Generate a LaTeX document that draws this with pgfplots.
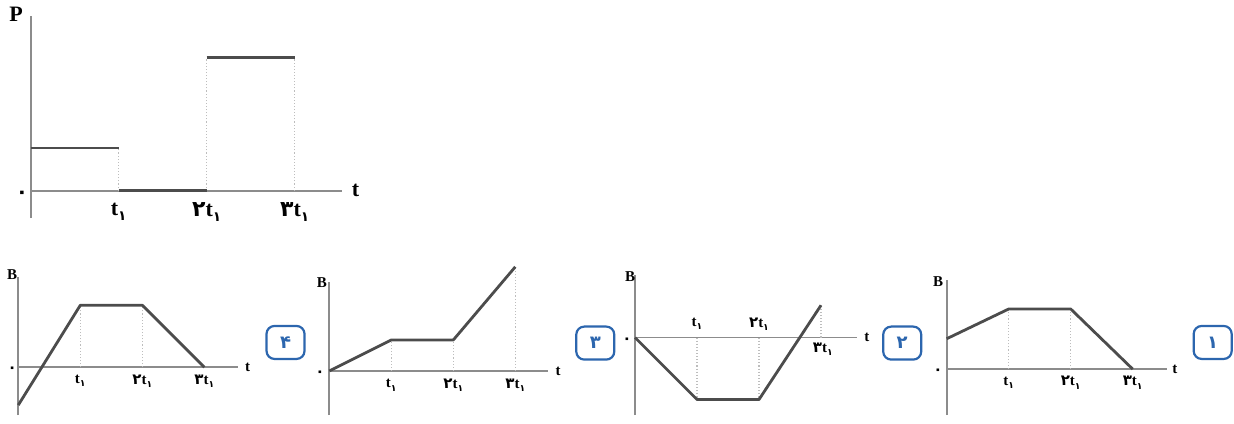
\documentclass[border=0pt]{standalone}
\usepackage{pgfplots}
\pgfplotsset{compat=1.18}
\usepackage{fontspec}
\setmainfont{Liberation Serif}
\newfontfamily\fa{DejaVu Sans}
\definecolor{axisgray}{HTML}{8C8C8C}
\definecolor{datagray}{HTML}{4C4C4C}
\definecolor{guidegray}{HTML}{BDBDBD}
\definecolor{boxblue}{HTML}{2C66AE}

% t-label with a Persian multiplier and subscript
\newcommand{\tl}[1]{{\fa\bfseries #1}\textbf{t}\raisebox{-0.45ex}{\fontsize{0.62em}{1em}\selectfont\fa\bfseries ۱}}
\newcommand{\choice}[1]{\node[draw=boxblue, line width=1.1pt, rounded corners=4pt,
  minimum width=19pt, minimum height=16.5pt, inner sep=0pt, text=boxblue,
  font=\fa\bfseries\fontsize{9}{10}\selectfont]}

\pgfplotsset{
  diag/.style={axis lines=middle, axis line style={-, draw=axisgray, line width=0.9pt},
    xtick=\empty, ytick=\empty, enlargelimits=false, clip=false, anchor=south west},
  curve/.style={datagray, line width=1.4pt, no marks, line join=round},
  guide/.style={guidegray, densely dotted, line width=0.55pt, no marks, forget plot},
}

\begin{document}
\begin{tikzpicture}
\useasboundingbox (0,0) rectangle (617pt,211.5pt);

% power versus time
\begin{axis}[diag, x=44pt, y=44pt, xmin=0, xmax=3.54, ymin=-0.31, ymax=1.98,
  at={(15.35pt,102.5pt)}, font=\fontsize{11}{12}\selectfont]
\addplot[guide] coordinates {(1,0) (1,0.485)};
\addplot[guide] coordinates {(2,0) (2,1.51)};
\addplot[guide] coordinates {(3,0) (3,1.51)};
\addplot[curve] coordinates {(0,0.485) (1,0.485)};
\addplot[curve] coordinates {(1,0) (2,0)};
\addplot[curve] coordinates {(2,1.51) (3,1.51)};
\node at (axis cs:-0.165,2.0) {\textbf{P}};
\node at (axis cs:3.69,0) {\textbf{t}};
\node at (axis cs:-0.1,-0.05) {\fontsize{10}{11}\selectfont\fa\bfseries ۰};
\node at (axis cs:1,-0.24) {\tl{}};
\node at (axis cs:2,-0.24) {\tl{۲}};
\node at (axis cs:3,-0.24) {\tl{۳}};
\end{axis}

% option 4
\begin{axis}[diag, x=31pt, y=31pt, xmin=0, xmax=3.54, ymin=-0.77, ymax=1.46,
  at={(9.15pt,4pt)}, font=\fontsize{7.5}{9}\selectfont]
\addplot[guide] coordinates {(1,0) (1,1)};
\addplot[guide] coordinates {(2,0) (2,1)};
\addplot[curve] coordinates {(0,-0.61) (1,1) (2,1) (3,0)};
\node at (axis cs:-0.1,1.5) {\textbf{B}};
\node at (axis cs:3.7,0) {\textbf{t}};
\node at (axis cs:-0.1,-0.045) {\fontsize{7.5}{8}\selectfont\fa\bfseries ۰};
\node at (axis cs:1,-0.22) {\tl{}};
\node at (axis cs:2,-0.22) {\tl{۲}};
\node at (axis cs:3,-0.22) {\tl{۳}};
\choice{} at (axis cs:4.31,0.40) {۴};
\end{axis}

% option 3
\begin{axis}[diag, x=31pt, y=31pt, xmin=0, xmax=3.53, ymin=-0.71, ymax=1.44,
  at={(164.65pt,4pt)}, font=\fontsize{7.5}{9}\selectfont]
\addplot[guide] coordinates {(1,0) (1,0.5)};
\addplot[guide] coordinates {(2,0) (2,0.5)};
\addplot[guide] coordinates {(3,0) (3,1.68)};
\addplot[curve] coordinates {(0,0) (1,0.5) (2,0.5) (3,1.68)};
\node at (axis cs:-0.12,1.42) {\textbf{B}};
\node at (axis cs:3.69,0) {\textbf{t}};
\node at (axis cs:-0.15,-0.045) {\fontsize{7.5}{8}\selectfont\fa\bfseries ۰};
\node at (axis cs:1,-0.23) {\tl{}};
\node at (axis cs:2,-0.23) {\tl{۲}};
\node at (axis cs:3,-0.23) {\tl{۳}};
\choice{} at (axis cs:4.29,0.45) {۳};
\end{axis}

% option 2
\begin{axis}[diag, x=31pt, y=31pt, xmin=0, xmax=3.58, ymin=-1.25, ymax=1.01,
  at={(317.5pt,4pt)}, font=\fontsize{7.5}{9}\selectfont]
\addplot[guide] coordinates {(1,0) (1,-1)};
\addplot[guide] coordinates {(2,0) (2,-1)};
\addplot[guide] coordinates {(3,0) (3,0.52)};
\addplot[curve] coordinates {(0,0) (1,-1) (2,-1) (3,0.52)};
\node at (axis cs:-0.08,0.98) {\textbf{B}};
\node at (axis cs:3.74,0) {\textbf{t}};
\node at (axis cs:-0.13,-0.045) {\fontsize{7.5}{8}\selectfont\fa\bfseries ۰};
\node at (axis cs:1,0.22) {\tl{}};
\node at (axis cs:2,0.22) {\tl{۲}};
\node at (axis cs:3.03,-0.19) {\tl{۳}};
\choice{} at (axis cs:4.31,-0.09) {۲};
\end{axis}

% option 1
\begin{axis}[diag, x=31pt, y=31pt, xmin=0, xmax=3.55, ymin=-0.74, ymax=1.44,
  at={(473.35pt,4pt)}, font=\fontsize{7.5}{9}\selectfont]
\addplot[guide] coordinates {(1,0) (1,0.97)};
\addplot[guide] coordinates {(2,0) (2,0.97)};
\addplot[curve] coordinates {(0,0.49) (1,0.97) (2,0.97) (3,0)};
\node at (axis cs:-0.14,1.41) {\textbf{B}};
\node at (axis cs:3.68,0) {\textbf{t}};
\node at (axis cs:-0.14,-0.045) {\fontsize{7.5}{8}\selectfont\fa\bfseries ۰};
\node at (axis cs:1,-0.22) {\tl{}};
\node at (axis cs:2,-0.22) {\tl{۲}};
\node at (axis cs:3,-0.22) {\tl{۳}};
\choice{} at (axis cs:4.29,0.43) {۱};
\end{axis}
\end{tikzpicture}
\end{document}
